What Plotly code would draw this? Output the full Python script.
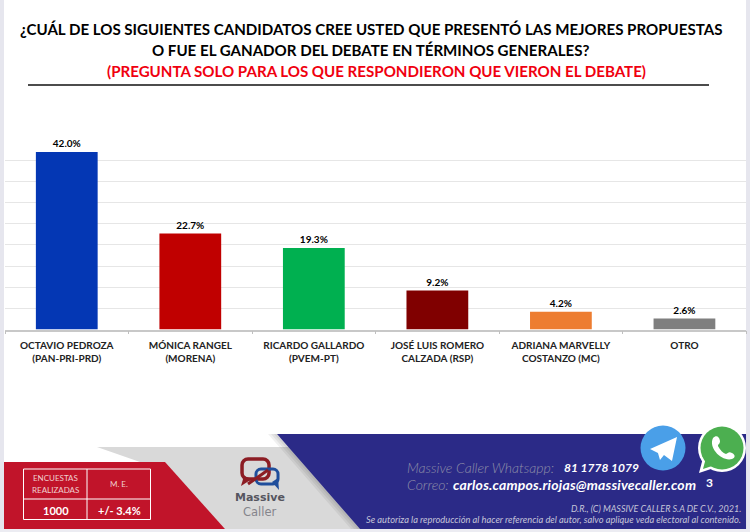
import plotly.graph_objects as go

# Datos del grafico
candidatos = ["OCTAVIO PEDROZA<br>(PAN-PRI-PRD)", "MÓNICA RANGEL<br>(MORENA)", "RICARDO GALLARDO<br>(PVEM-PT)",
              "JOSÉ LUIS ROMERO<br>CALZADA (RSP)", "ADRIANA MARVELLY<br>COSTANZO (MC)", "OTRO"]
valores = [42.0, 22.7, 19.3, 9.2, 4.2, 2.6]
colores = ["#0437b4", "#c00000", "#00b050", "#800000", "#ed7d31", "#7f7f7f"]

W, H = 750, 532
FUENTE = "Lato"
ROJO = "#c1142a"
AZUL = "#2b2a87"


# pasar de pixeles de la imagen a coordenadas paper
def px(x):
    return x / W


def py(y):
    return 1 - y / H


def poly(puntos):
    return "M " + " L ".join(f"{px(x):.4f},{py(y):.4f}" for x, y in puntos) + " Z"


def curva(inicio, tramos, cerrar=True):
    s = f"M {px(inicio[0]):.4f},{py(inicio[1]):.4f}"
    for c1, c2, p in tramos:
        s += " C " + " ".join(f"{px(a):.4f},{py(b):.4f}" for a, b in (c1, c2, p))
    return s + (" Z" if cerrar else "")


formas = []


def relleno(path, color, capa="below"):
    formas.append(dict(type="path", xref="paper", yref="paper", path=path, fillcolor=color,
                       line=dict(width=0), layer=capa))


def linea(x0, y0, x1, y1, color="white", ancho=1, capa="above"):
    formas.append(dict(type="line", xref="paper", yref="paper", x0=px(x0), y0=py(y0), x1=px(x1), y1=py(y1),
                       line=dict(color=color, width=ancho), layer=capa))


def circulo(cx, cy, r, color, capa="above", borde=None, ancho=0):
    formas.append(dict(type="circle", xref="paper", yref="paper", x0=px(cx - r), x1=px(cx + r),
                       y0=py(cy - r), y1=py(cy + r), fillcolor=color, layer=capa,
                       line=dict(color=borde or color, width=ancho)))


# burbuja redondeada del logo, solo contorno
def burbuja(x0, y0, x1, y1, r, color, ancho):
    k = r * 0.45
    p = curva((x0 + r, y0), [
        ((x0 + r + 1, y0), (x1 - r - 1, y0), (x1 - r, y0)),
        ((x1 - k, y0), (x1, y0 + k), (x1, y0 + r)),
        ((x1, y0 + r + 1), (x1, y1 - r - 1), (x1, y1 - r)),
        ((x1, y1 - k), (x1 - k, y1), (x1 - r, y1)),
        ((x1 - r - 1, y1), (x0 + r + 1, y1), (x0 + r, y1)),
        ((x0 + k, y1), (x0, y1 - k), (x0, y1 - r)),
        ((x0, y1 - r - 1), (x0, y0 + r + 1), (x0, y0 + r)),
        ((x0, y0 + k), (x0 + k, y0), (x0 + r, y0)),
    ])
    formas.append(dict(type="path", xref="paper", yref="paper", path=p, fillcolor="rgba(0,0,0,0)",
                       line=dict(color=color, width=ancho), layer="above"))


# bordes de la captura
relleno(poly([(0, 0), (4, 0), (4, 532), (0, 532)]), "#e6e6ee")
relleno(poly([(746, 0), (750, 0), (750, 532), (746, 532)]), "#e6e6ee")
relleno(poly([(0, 529), (750, 529), (750, 532), (0, 532)]), "#ececf2")

# linea bajo el titulo
linea(28, 85, 709, 85, "#111111", 1.5)

# pie: franjas gris, roja y azul
relleno(poly([(97, 447), (290, 447), (365, 529), (225, 529), (140, 462)]), "#d9d9d9")
for d in (9, 6, 3):
    relleno(poly([(277 - d, 434), (277, 434), (360, 529), (360 - d, 529)]), "rgba(0,0,0,0.06)")
relleno(poly([(4, 462), (165, 462), (225, 529), (4, 529)]), ROJO)
relleno(poly([(277, 434), (746, 434), (746, 529), (360, 529)]), AZUL)

# tabla de encuestas
linea(23.5, 469, 150.5, 469)
linea(23.5, 519.5, 150.5, 519.5)
linea(23.5, 469, 23.5, 519.5)
linea(150.5, 469, 150.5, 519.5)
linea(87, 469, 87, 519.5)
linea(23.5, 499, 150.5, 499)

# logo
burbuja(242, 459, 269, 479, 6, "#8c1d24", 3.5)
relleno(poly([(244, 476), (241, 486), (252, 479)]), "#8c1d24", "above")
burbuja(256, 469, 278, 484, 5, "#1f4e9c", 3)
relleno(poly([(272, 482), (279, 490), (278, 478)]), "#1f4e9c", "above")
linea(248, 484, 268, 470, "#8c1d24", 3)

# telegram
circulo(663, 448, 22.5, "#4a9fe8")
relleno(poly([(650, 449), (677, 437), (672, 461), (664, 455), (660, 460), (658, 453)]), "white", "above")

# whatsapp
circulo(722, 448, 24, "white")
relleno(poly([(703, 458), (699, 473), (714, 468)]), "white", "above")
circulo(722, 448, 21.5, "#4caf50")
relleno(poly([(706, 458), (703, 469), (715, 465)]), "#4caf50", "above")
relleno(curva((713, 438), [((716, 435), (719, 436), (720, 441)),
                           ((720, 444), (718, 444), (718, 446)),
                           ((720, 450), (723, 453), (726, 454)),
                           ((728, 453), (729, 451), (732, 453)),
                           ((736, 455), (735, 458), (732, 459)),
                           ((722, 462), (708, 448), (713, 438))]), "white", "above")


def texto(x, y, t, size=10, color="black", anchor="center", fuente=FUENTE):
    return dict(xref="paper", yref="paper", x=px(x), y=py(y), text=t, showarrow=False, xanchor=anchor,
                yanchor="middle", font=dict(family=fuente, size=size, color=color))


def gris(t):
    return f"<span style='font-weight:300'><i>{t}</i></span>"


notas = [
    texto(370.5, 29, "<b>¿CUÁL DE LOS SIGUIENTES CANDIDATOS CREE USTED QUE PRESENTÓ LAS MEJORES PROPUESTAS</b>", 15.1),
    texto(370.5, 50, "<b>O FUE EL GANADOR DEL DEBATE EN TÉRMINOS GENERALES?</b>", 15.1),
    texto(376, 71, "<b>(PREGUNTA SOLO PARA LOS QUE RESPONDIERON QUE VIERON EL DEBATE)</b>", 15.1, "#f0000f"),
    texto(55.5, 478, "ENCUESTAS", 8, "#f0d0d0"),
    texto(55.5, 490, "REALIZADAS", 8, "#f0d0d0"),
    texto(119, 484, "M. E.", 8, "#f0d0d0"),
    texto(55.5, 510, "<b>1000</b>", 11, "white"),
    texto(119, 510, "<b>+/- 3.4%</b>", 11, "white"),
    texto(260, 497, "<b>Massive</b>", 11, "#55555f", fuente="DejaVu Sans"),
    texto(260, 511.5, "Caller", 11.5, "#85858c", fuente="DejaVu Sans"),
    texto(405, 467, gris("Massive Caller Whatsapp:"), 14, "#8f8fa8", "left"),
    texto(562, 467, "<b><i>81 1778 1079</i></b>", 12, "white", "left"),
    texto(405, 484, gris("Correo:"), 14, "#8f8fa8", "left"),
    texto(451, 484, "<b><i><span style='letter-spacing:0.2px'>carlos.campos.riojas@massivecaller.com</span></i></b>",
          14, "white", "left"),
    texto(709, 482, "<b>3</b>", 12, "white"),
    texto(743, 508, "<i>D.R., (C) MASSIVE CALLER S.A DE C.V., 2021.</i>", 9, "#c4c4d8", "right"),
    texto(743, 519, "<i>Se autoriza la reproducción al hacer referencia del autor, salvo aplique veda electoral al contenido.</i>",
          9.3, "#c4c4d8", "right"),
]

fig = go.Figure(go.Bar(
    x=candidatos,
    y=valores,
    marker=dict(color=colores, line=dict(width=0)),
    texttemplate="<b>%{y:.1f}%</b>",
    textposition="outside",
    cliponaxis=False,
    textfont=dict(family=FUENTE, size=10, color="black"),
))

fig.update_layout(
    width=W,
    height=H,
    margin=dict(l=0, r=0, t=0, b=0),
    paper_bgcolor="white",
    plot_bgcolor="white",
    showlegend=False,
    bargap=0.5,
    shapes=formas,
    annotations=notas,
    xaxis=dict(
        domain=[5 / W, 746.2 / W],
        tickson="boundaries",
        ticks="outside",
        ticklen=3,
        tickcolor="#bfbfbf",
        showline=True,
        linecolor="#c8c8c8",
        linewidth=1.5,
        ticklabelstandoff=6,
        tickfont=dict(family=FUENTE, size=10, color="#222222", weight=700),
    ),
    yaxis=dict(
        domain=[1 - 329.5 / H, 1 - 139.3 / H],
        range=[0, 45],
        dtick=5,
        showticklabels=False,
        gridcolor="#e6e6e6",
        gridwidth=1,
        zeroline=False,
    ),
)

fig.write_html("out.html", config=dict(displayModeBar=False), post_script="document.body.style.margin='0';")
